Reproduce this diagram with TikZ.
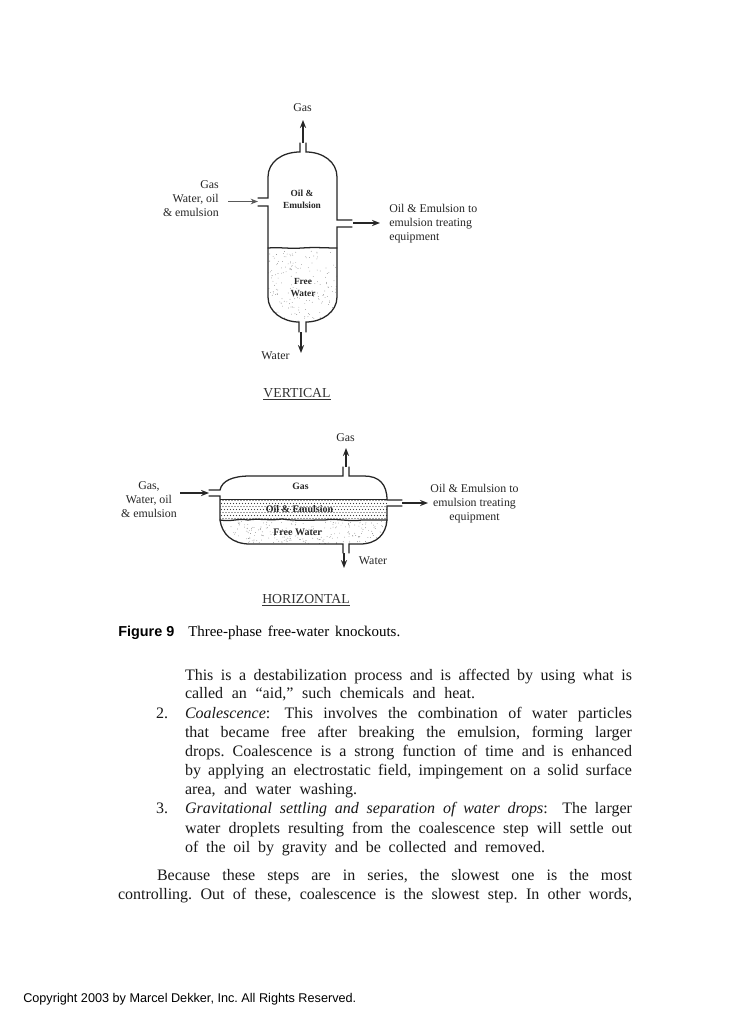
\documentclass[tikz,border=0pt]{standalone}
\usepackage{fontspec}
\setmainfont{Liberation Serif}
\newfontfamily\helv{Liberation Sans}
\usetikzlibrary{arrows.meta}
\newlength{\pxu}\setlength{\pxu}{0.75pt}
\newcommand{\bodyline}[5]{\node[bodytext,anchor=base west] (#1) at (#2,#3) {\makebox[#4\pxu][s]{#5}};}
\newcommand{\plainline}[4]{\node[bodytext,anchor=base west] (#1) at (#2,#3) {#4};}
\frenchspacing
\tikzset{
 x=0.75pt,y=-0.75pt,
 wall/.style={draw=black!85,line width=0.95pt,line cap=round},
 flow/.style={draw=black!85,line width=0.95pt,-{Stealth[length=6pt,width=4.6pt]}},
 thinflow/.style={draw=black!65,line width=0.7pt,-{Stealth[length=5.5pt,width=4.2pt]}},
 lab/.style={font=\fontsize{8.9pt}{10.7pt}\selectfont,inner sep=0pt,align=#1,text=black!85},
 lab/.default=center,
 inlab/.style={font=\fontsize{7pt}{9pt}\selectfont\bfseries,inner sep=0pt,align=center,text=black!85},
 titlecap/.style={font=\fontsize{10.3pt}{12pt}\selectfont,inner sep=0pt,text=black!80},
 bodytext/.style={font=\fontsize{12pt}{13pt}\selectfont,inner sep=0pt,outer sep=0pt,text=black!90},
 dotw/.style={fill=black!60},
}
\begin{document}
\begin{tikzpicture}
\useasboundingbox (0,0) rectangle (735,1024);
\fill[white] (0,0) rectangle (735,1024);
% ---------- vertical vessel ----------
\begin{scope}
\clip (268,248) -- (337,248) -- (337,297) .. controls (337,312) and (322,322) .. (306,322) -- (299,322) .. controls (283,322) and (268,312) .. (268,297) -- cycle;
\pgfmathsetseed{31}
\foreach \i in {1,...,190}{\fill[dotw] ({268+69*rnd},{250+72*rnd}) circle (0.35);}
\end{scope}
\draw[wall] (300,143) -- (300,152) .. controls (282,152) and (268,162) .. (268,177) -- (268,198) -- (258,198);
\draw[wall] (258,206) -- (268,206) -- (268,297) .. controls (268,312) and (283,322) .. (299,322) -- (299,332);
\draw[wall] (306,143) -- (306,152) .. controls (323,152) and (337,162) .. (337,177) -- (337,220) -- (352,220);
\draw[wall] (352,227) -- (337,227) -- (337,297) .. controls (337,312) and (322,322) .. (306,322) -- (306,332);
\draw[wall] (268,248) .. controls (280,247) and (290,249) .. (302,248) .. controls (315,247) and (325,248) .. (337,248);
\coordinate (vgasout) at (303,143); \coordinate (vinsrc) at (228,201.5); \coordinate (vin) at (258,201.5);
\coordinate (voilout) at (353,223); \coordinate (vwatout) at (301,332);
\node[lab] (vgas) at (302.5,108) {Gas};
\node[lab=right,anchor=east] (vfeed) at (219,198.5) {Gas\\Water, oil\\\& emulsion};
\node[lab=left,anchor=west] (voil) at (389,223.5) {Oil \& Emulsion to\\emulsion treating\\equipment};
\node[lab,anchor=base] (vwat) at (275.5,359) {Water};
\node[inlab] (voe) at (302,199) {Oil \&\\Emulsion};
\node[inlab] (vfw) at (303,287.5) {Free\\Water};
\node[titlecap,anchor=base] (vtitle) at (297,397) {\underline{VERTICAL}};
\coordinate (vgasend) at (303,120); \coordinate (voilend) at (380,223); \coordinate (vwatend) at (301,353);
\draw[flow] (vgasout) -- (vgasend);
\draw[thinflow] (vinsrc) -- (vin);
\draw[flow] (voilout) -- (voilend);
\draw[flow] (vwatout) -- (vwatend);
% ---------- horizontal vessel ----------
\begin{scope}
\clip (220,499) rectangle (387,520);
\foreach \r in {0,...,6}{\foreach \c in {0,...,56}{
 \pgfmathsetmacro{\ox}{220+\c*3+1.5*mod(\r,2)}
 \fill[black!75] (\ox,{500.5+\r*3}) circle (0.6);}}
\end{scope}
\begin{scope}
\clip (220,520) .. controls (222,534) and (232,544) .. (250,544) -- (360,544) .. controls (377,544) and (386,534) .. (387,520) -- cycle;
\pgfmathsetseed{17}
\foreach \i in {1,...,240}{\fill[dotw] ({220+167*rnd},{521+23*rnd}) circle (0.35);}
\end{scope}
\draw[wall] (209,490) -- (220,490) .. controls (222,481) and (232,476) .. (250,476) -- (343,476) -- (343,467);
\draw[wall] (349,467) -- (349,476) -- (364,476) .. controls (379,476) and (387,484) .. (387,500) -- (402,500);
\draw[wall] (209,496) -- (220,496) -- (220,520) .. controls (222,534) and (232,544) .. (250,544) -- (343,544) -- (343,553);
\draw[wall] (402,506) -- (387,506) -- (387,520) .. controls (386,534) and (377,544) .. (360,544) -- (349,544) -- (349,553);
\draw[black!85,line width=0.5pt] (220,499) -- (387,499);
\draw[wall] (220,520) .. controls (232,522) and (238,518) .. (248,520) .. controls (258,518) and (270,521) .. (282,519) .. controls (295,521) and (310,520) .. (325,520) .. controls (335,518) and (350,522) .. (362,520) -- (387,520);
\coordinate (hgasout) at (346,467); \coordinate (hinsrc) at (180,493); \coordinate (hin) at (209,493);
\coordinate (hoilout) at (402,503); \coordinate (hwatout) at (344,553);
\coordinate (hgasend) at (346,448); \coordinate (hoilend) at (428,503); \coordinate (hwatend) at (344,568);
\node[lab] (hgas) at (345.5,438) {Gas};
\node[lab] (hfeed) at (149,499.5) {Gas,\\Water, oil\\\& emulsion};
\node[lab] (hoil) at (474.5,503.5) {Oil \& Emulsion to\\emulsion treating\\equipment};
\node[lab,anchor=base] (hwat) at (373,564) {Water};
\node[inlab,font=\fontsize{7.3pt}{9pt}\selectfont\bfseries] (hg) at (300.5,486) {Gas};
\node[inlab,font=\fontsize{7.5pt}{9pt}\selectfont\bfseries] (hoe) at (299.5,509) {Oil \& Emulsion};
\node[inlab,font=\fontsize{7.5pt}{9pt}\selectfont\bfseries] (hfw) at (297.5,532) {Free Water};
\node[titlecap,anchor=base] (htitle) at (306,603) {\underline{HORIZONTAL}};
\draw[flow] (hgasout) -- (hgasend);
\draw[flow] (hinsrc) -- (hin);
\draw[flow] (hoilout) -- (hoilend);
\draw[flow] (hwatout) -- (hwatend);
% ---------- caption and body ----------
\node[anchor=base west,inner sep=0pt,font=\helv\fontsize{10.8pt}{12pt}\selectfont\bfseries] (fig) at (118,636) {Figure 9};
\node[anchor=base west,inner sep=0pt,font=\fontsize{11.2pt}{12pt}\selectfont] (figt) at (188,636) {\makebox[212\pxu][s]{Three-phase free-water knockouts.}};
\bodyline{l1}{185}{680}{447}{This is a destabilization process and is affected by using what is}
\bodyline{l2}{185}{698}{290}{called an “aid,” such chemicals and heat.}
\plainline{n2}{156}{718}{2.}
\bodyline{l3}{185}{718}{447}{\textit{Coalescence}:\hspace{0.9em}This involves the combination of water particles}
\bodyline{l4}{185}{737}{447}{that became free after breaking the emulsion, forming larger}
\bodyline{l5}{185}{756}{447}{drops. Coalescence is a strong function of time and is enhanced}
\bodyline{l6}{185}{775}{447}{by applying an electrostatic field, impingement on a solid surface}
\bodyline{l7}{185}{794}{172}{area, and water washing.}
\plainline{n3}{156}{813.5}{3.}
\bodyline{l8}{185}{813.5}{447}{\textit{Gravitational settling and separation of water drops}:\hspace{0.9em}The larger}
\bodyline{l9}{185}{833}{447}{water droplets resulting from the coalescence step will settle out}
\bodyline{l10}{185}{852}{360}{of the oil by gravity and be collected and removed.}
\bodyline{l11}{157}{880}{475}{Because these steps are in series, the slowest one is the most}
\bodyline{l12}{118}{899}{514}{controlling. Out of these, coalescence is the slowest step. In other words,}
\node[anchor=base west,inner sep=0pt,font=\helv\fontsize{9.5pt}{11pt}\selectfont] (copy) at (23,1002) {Copyright 2003 by Marcel Dekker, Inc. All Rights Reserved.};
\end{tikzpicture}
\end{document}
